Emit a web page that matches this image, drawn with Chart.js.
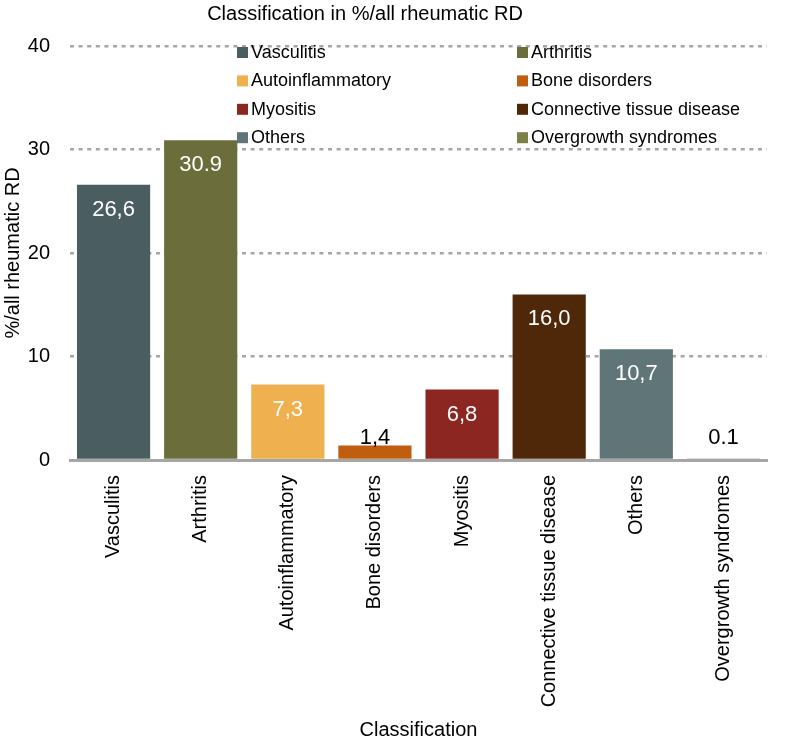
<!DOCTYPE html>
<html>
<head>
<meta charset="utf-8">
<script src="https://cdn.jsdelivr.net/npm/chart.js@4/dist/chart.umd.min.js"></script>
<style>
  html, body { margin: 0; padding: 0; background: #fff; }
  #wrap { width: 800px; height: 740px; position: relative; }
</style>
</head>
<body>
<div id="wrap"><canvas id="c"></canvas></div>
<script>
const chartTitle = "Classification in %/all rheumatic RD";
const xTitle = "Classification";
const yTitle = "%/all rheumatic RD";
const categories = ["Vasculitis", "Arthritis", "Autoinflammatory", "Bone disorders", "Myositis", "Connective tissue disease", "Others", "Overgrowth syndromes"];
const values = [26.6, 30.9, 7.3, 1.4, 6.8, 16.0, 10.7, 0.1];
const valueLabels = ["26,6", "30.9", "7,3", "1,4", "6,8", "16,0", "10,7", "0.1"];
const yTicks = [0, 10, 20, 30, 40];
const colors = ["#4a5e61", "#6b6e3b", "#efb14f", "#bf5e0e", "#8c2620", "#4e2809", "#5f7578", "#7c8149"];

const FONT = "'Liberation Sans', Arial, Helvetica, sans-serif";

const overlay = {
  id: 'overlay',
  afterDatasetsDraw(chart) {
    const ctx = chart.ctx;
    const area = chart.chartArea;
    const y = chart.scales.y;
    const meta = chart.getDatasetMeta(0);
    ctx.save();
    // value labels
    ctx.font = "22px " + FONT;
    ctx.textAlign = 'center';
    ctx.textBaseline = 'middle';
    meta.data.forEach((bar, i) => {
      const v = values[i];
      if (v >= 5) {
        ctx.fillStyle = '#ffffff';
        ctx.fillText(valueLabels[i], bar.x, bar.y + 25);
      } else {
        ctx.fillStyle = '#000000';
        const zero = y.getPixelForValue(0);
        ctx.fillText(valueLabels[i], bar.x, Math.min(bar.y - 7, zero - 22));
      }
    });
    // legend (two columns inside plot area)
    ctx.font = "18px " + FONT;
    ctx.textAlign = 'left';
    const colX = [area.left + 167, area.left + 447];
    const rowY0 = area.top + 6;
    const rowH = 28.4;
    categories.forEach((name, i) => {
      const cx = colX[i % 2];
      const cy = rowY0 + Math.floor(i / 2) * rowH;
      ctx.fillStyle = colors[i];
      ctx.fillRect(cx, cy - 5, 11, 11);
      ctx.fillStyle = '#000000';
      ctx.fillText(name, cx + 14, cy + 1);
    });
    // title
    ctx.font = "20px " + FONT;
    ctx.textAlign = 'center';
    ctx.fillStyle = '#000000';
    ctx.fillText(chartTitle, 365, 14);
    ctx.restore();
  }
};

new Chart(document.getElementById('c'), {
  type: 'bar',
  data: {
    labels: categories,
    datasets: [{
      label: yTitle,
      data: values,
      backgroundColor: colors,
      borderWidth: 0,
      barPercentage: 0.84,
      categoryPercentage: 1.0
    }]
  },
  options: {
    responsive: true,
    maintainAspectRatio: false,
    animation: false,
    devicePixelRatio: 1,
    layout: { padding: { top: 46, right: 33, left: 0, bottom: 0 } },
    plugins: {
      legend: { display: false },
      title: { display: false },
      tooltip: { enabled: false }
    },
    scales: {
      x: {
        grid: { display: false },
        border: { display: true, color: '#a6a6a6', width: 3 },
        ticks: {
          color: '#000',
          font: { family: FONT, size: 20 },
          maxRotation: 90,
          minRotation: 90,
          padding: 7,
          autoSkip: false
        },
        title: {
          display: true,
          text: xTitle,
          color: '#000',
          font: { family: FONT, size: 20, lineHeight: 1 },
          padding: { top: 0, bottom: 0 }
        },
        afterFit(scale) { scale.height = 280; }
      },
      y: {
        min: 0,
        max: 40,
        afterBuildTicks(scale) { scale.ticks = yTicks.map(v => ({ value: v })); },
        afterFit(scale) { scale.width = 70; },
        grid: {
          drawTicks: false,
          color: (c) => (c.tick && c.tick.value === 0) ? 'rgba(0,0,0,0)' : '#a6a6a6',
          lineWidth: 2.5
        },
        border: { display: false, dash: [4, 4.6] },
        ticks: {
          color: '#000',
          font: { family: FONT, size: 20 },
          padding: 20
        },
        title: {
          display: true,
          text: yTitle,
          color: '#000',
          font: { family: FONT, size: 20, lineHeight: 1.2 },
          padding: { top: 1, bottom: 2 }
        }
      }
    }
  },
  plugins: [overlay]
});
</script>
</body>
</html>
